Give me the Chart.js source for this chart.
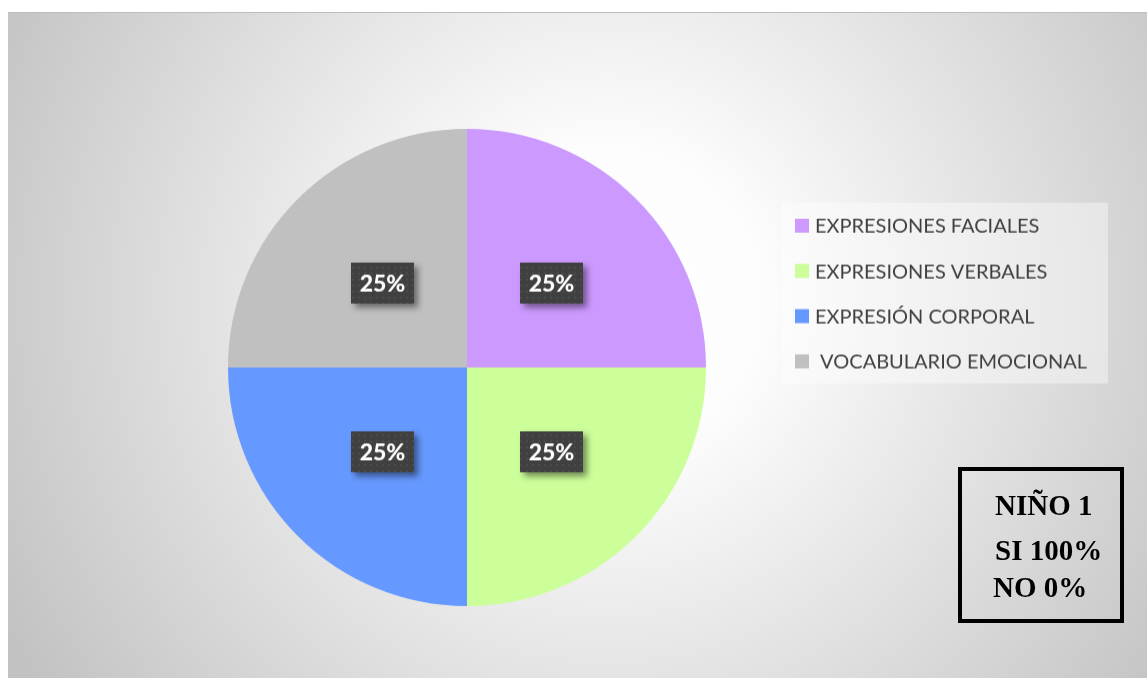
<!DOCTYPE html>
<html>
<head>
<meta charset="utf-8">
<script src="https://cdn.jsdelivr.net/npm/chart.js@4.4.1/dist/chart.umd.min.js"></script>
<style>
  body { margin: 0; background: #ffffff; }
  #wrap { position: absolute; left: 8px; top: 12px; width: 1139px; height: 666px; }
  #wrap canvas { border-top: 1px solid #bdbdbd; box-sizing: border-box; }
  #nino {
    position: absolute; left: 958px; top: 467px; width: 158px; height: 148px;
    border: 4px solid #000; box-sizing: content-box;
    font-family: "Liberation Serif", "Times New Roman", serif; font-weight: bold;
    font-size: 29px; color: #000; line-height: 1;
  }
  #nino div { position: absolute; left: 33px; white-space: nowrap; }
</style>
</head>
<body>
<div id="wrap"><canvas id="mycanvas"></canvas></div>
<div id="nino">
  <div style="top:20px">NIÑO 1</div>
  <div style="top:65px">SI 100%</div>
  <div style="top:102px;left:31px">NO 0%</div>
</div>
<script>
var categories = ['EXPRESIONES FACIALES', 'EXPRESIONES VERBALES', 'EXPRESIÓN CORPORAL', ' VOCABULARIO EMOCIONAL'];
var values = [25, 25, 25, 25];
var colors = ['#CC99FF', '#CCFF99', '#6699FF', '#C0C0C0'];

// fondo degradado radial
var bgPlugin = {
  id: 'bg',
  beforeDraw: function(chart) {
    var ctx = chart.ctx;
    var g = ctx.createRadialGradient(600, 288, 0, 600, 288, 690);
    g.addColorStop(0, '#ffffff');
    g.addColorStop(0.22, '#fdfdfd');
    g.addColorStop(1, '#c2c2c2');
    ctx.save();
    ctx.fillStyle = g;
    ctx.fillRect(0, 0, chart.width, chart.height);
    ctx.restore();
  }
};

// patron de puntos para las etiquetas
var pat = document.createElement('canvas');
pat.width = 6; pat.height = 6;
var pctx = pat.getContext('2d');
pctx.fillStyle = '#404040';
pctx.fillRect(0, 0, 6, 6);
pctx.fillStyle = '#4c4c4c';
pctx.fillRect(2, 2, 2, 2);

var labelPlugin = {
  id: 'pctLabels',
  afterDatasetsDraw: function(chart) {
    var ctx = chart.ctx;
    var meta = chart.getDatasetMeta(0);
    var total = values.reduce(function(a, b) { return a + b; }, 0);
    meta.data.forEach(function(arc, i) {
      var p = arc.getCenterPoint();
      var w = 63, h = 41;
      ctx.save();
      ctx.shadowColor = 'rgba(0,0,0,0.45)';
      ctx.shadowBlur = 6;
      ctx.shadowOffsetX = 4;
      ctx.shadowOffsetY = 4;
      ctx.fillStyle = ctx.createPattern(pat, 'repeat');
      ctx.fillRect(p.x - w / 2, p.y - h / 2, w, h);
      ctx.restore();
      ctx.save();
      ctx.fillStyle = '#ffffff';
      ctx.font = '900 23px Lato';
      ctx.textAlign = 'center';
      ctx.textBaseline = 'middle';
      ctx.fillText(Math.round(values[i] / total * 100) + '%', p.x, p.y + 1);
      ctx.restore();
    });
  }
};

var legendPlugin = {
  id: 'sideLegend',
  afterDraw: function(chart) {
    var ctx = chart.ctx;
    var x0 = 774, y0 = 190;
    ctx.save();
    ctx.fillStyle = 'rgba(255,255,255,0.4)';
    ctx.fillRect(x0, y0, 326, 181);
    ctx.font = '20px Lato';
    ctx.textBaseline = 'middle';
    chart.data.labels.forEach(function(lab, i) {
      var cy = y0 + 23 + i * 45.3;
      ctx.fillStyle = chart.data.datasets[0].backgroundColor[i];
      ctx.fillRect(x0 + 13, cy - 7, 14, 14);
      ctx.fillStyle = '#404040';
      ctx.fillText(lab, x0 + 33, cy + 1);
    });
    ctx.restore();
  }
};

var chartdata = {
  labels: categories,
  datasets: [
    {
      data: values,
      backgroundColor: colors,
      borderWidth: 0
    }
  ]
};

var ctx = document.getElementById('mycanvas');
var pieGraph = new Chart(ctx, {
  type: 'pie',
  data: chartdata,
  options: {
    responsive: true,
    maintainAspectRatio: false,
    animation: false,
    layout: { padding: { top: 116, bottom: 72, left: 220, right: 441 } },
    plugins: {
      legend: { display: false },
      tooltip: { enabled: false }
    }
  },
  plugins: [bgPlugin, labelPlugin, legendPlugin]
});
</script>
</body>
</html>
